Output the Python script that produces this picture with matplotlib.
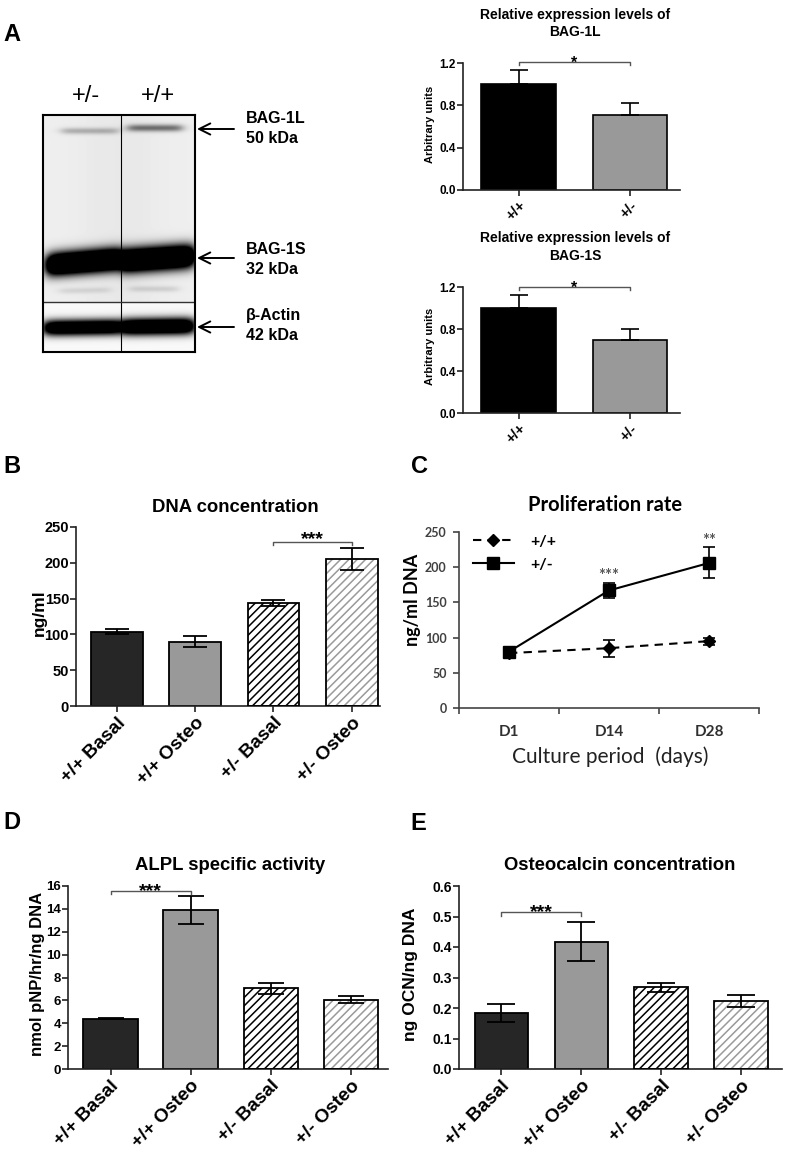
import numpy as np
import matplotlib
matplotlib.use("Agg")
import matplotlib.pyplot as plt
from matplotlib.lines import Line2D

# ---------------- data ----------------
a_groups = ["+/+", "+/-"]
bag1l_mean = [1.00, 0.71]
bag1l_sem = [0.13, 0.11]
bag1s_mean = [1.00, 0.70]
bag1s_sem = [0.12, 0.10]

groups4 = ["+/+ Basal", "+/+ Osteo", "+/- Basal", "+/- Osteo"]
dna_mean = [104, 90, 144, 205]
dna_sem = [3, 8, 4, 15]
alpl_mean = [4.4, 13.9, 7.05, 6.05]
alpl_sem = [0.05, 1.2, 0.45, 0.3]
ocn_mean = [0.183, 0.417, 0.268, 0.222]
ocn_sem = [0.030, 0.064, 0.015, 0.020]

days = ["D1", "D14", "D28"]
prolif_wt = [78, 85, 95]
prolif_wt_err = [3, 12, 5]
prolif_het = [80, 167, 206]
prolif_het_err = [3, 11, 22]

blot_lanes = ["+/-", "+/+"]
band_names = ["BAG-1L", "BAG-1S", "β-Actin"]
band_sizes = ["50 kDa", "32 kDa", "42 kDa"]

# ---------------- figure ----------------
W, H = 787, 1164
plt.rcParams['font.family'] = ['Liberation Sans', 'DejaVu Sans']
plt.rcParams['hatch.linewidth'] = 1.1
fig = plt.figure(figsize=(W / 100, H / 100), dpi=100)


def ax_px(l, t, r, b):
    return fig.add_axes([l / W, 1 - b / H, (r - l) / W, (b - t) / H])


def ftext(x, y, s, **kw):
    return fig.text(x / W, 1 - y / H, s, **kw)


# panel letters
for letter, x, y in [("A", 3, 32), ("B", 3, 464), ("C", 411, 464),
                     ("D", 3, 820), ("E", 410, 821)]:
    ftext(x, y, letter, fontsize=17, weight='bold', ha='left', va='center_baseline')

# ---------------- western blot (illustration) ----------------
bx0, bx1, by0, by1 = 43, 195, 115, 352
axb = ax_px(bx0, by0, bx1, by1)
yy, xx = np.mgrid[by0:by1, bx0:bx1] + 0.5


def band(x0, x1, yl, yr, sy, amp, p=2.0, w=3.0):
    yc = yl + (yr - yl) * np.clip((xx - x0) / (x1 - x0), 0, 1)
    fx = 1 / (1 + np.exp(-(xx - x0) / w)) / (1 + np.exp((xx - x1) / w))
    fy = np.exp(-np.abs((yy - yc) / sy) ** p)
    return amp * fx * fy


img = np.where(yy < 302, 0.935, 0.975)
img = img - 0.025 * np.exp(-((xx - 119) / 40) ** 2) * (yy < 302)
dark = (band(62, 118, 131, 131, 3.2, 0.25)
        + band(128, 182, 128, 128, 3.6, 0.5)
        + band(47, 120, 265, 259, 11.5, 1.9, p=2.2, w=3.5)
        + band(121, 194, 261, 256, 12.0, 1.9, p=2.2, w=3.5)
        + band(60, 110, 291, 290, 3.0, 0.10)
        + band(130, 178, 289, 289, 3.0, 0.12)
        + band(44, 120, 328, 327, 8.0, 1.5, p=2.2, w=3.5)
        + band(122, 194, 327, 326, 8.5, 1.6, p=2.2, w=3.5))
img = np.clip(img - dark, 0, 1)
axb.imshow(img, cmap='gray', vmin=0, vmax=1, extent=(bx0, bx1, by1, by0),
           aspect='auto', interpolation='bilinear')
axb.set_xlim(bx0, bx1)
axb.set_ylim(by1, by0)
axb.axvline(121, color='black', lw=0.8)
axb.axhline(302, color='#333333', lw=1.0)
axb.set_xticks([])
axb.set_yticks([])
for s in axb.spines.values():
    s.set_linewidth(1.5)

for lab, x in zip(blot_lanes, [86, 158]):
    ftext(x, 93, lab, fontsize=17, ha='center', va='center_baseline')

arrow_y = [129, 258, 327]
name_y = [117, 248, 314]
for name, size, ay, ny in zip(band_names, band_sizes, arrow_y, name_y):
    axb.annotate('', xy=(197, H - ay), xytext=(234, H - ay),
                 xycoords='figure pixels', textcoords='figure pixels',
                 arrowprops=dict(arrowstyle='->', lw=1.4, color='black',
                                 mutation_scale=20, shrinkA=0, shrinkB=0),
                 annotation_clip=False)
    ftext(246, ny, name, fontsize=11.5, weight='bold', ha='left', va='center_baseline')
    ftext(246, ny + 20, size, fontsize=11.5, weight='bold', ha='left', va='center_baseline')


# ---------------- helpers ----------------
def bar_panel(ax, means, sems, styles, width, capsize, upper_only=False, lw=1.3):
    x = np.arange(len(means))
    for xi, m, st in zip(x, means, styles):
        if st.get('hatch'):
            ax.bar(xi, m, width, color='white', edgecolor=st['hcolor'],
                   hatch=st['hatch'], linewidth=0, zorder=2)
            ax.bar(xi, m, width, fill=False, edgecolor='black', linewidth=lw, zorder=3)
        else:
            ax.bar(xi, m, width, color=st['face'], edgecolor='black', linewidth=lw, zorder=2)
    sems = np.asarray(sems, dtype=float)
    lower = np.zeros_like(sems) if upper_only else sems
    ax.errorbar(x, means, yerr=[lower, sems], fmt='none', ecolor='black',
                elinewidth=lw, capsize=capsize, capthick=lw, zorder=4)


def prism_axes(ax, xlim, ylim, yticks, ytl, xlabels, yfs, xfs, ypad=2):
    ax.set_xlim(*xlim)
    ax.set_ylim(*ylim)
    ax.spines[['top', 'right']].set_visible(False)
    for s in ['left', 'bottom']:
        ax.spines[s].set_linewidth(1.2)
        ax.spines[s].set_color('#222222')
    ax.set_yticks(yticks)
    ax.set_yticklabels(ytl, fontsize=yfs, weight='bold')
    ax.set_xticks(np.arange(len(xlabels)))
    ax.set_xticklabels(xlabels, rotation=45, ha='right', rotation_mode='anchor',
                       fontsize=xfs, weight='bold')
    ax.tick_params(direction='out', length=4, width=1.2, color='#222222', pad=2)
    ax.tick_params(axis='y', pad=ypad)


def bracket(ax, x1, x2, y, drop, stars, fs, off_pt):
    ax.plot([x1, x1, x2, x2], [y - drop, y, y, y - drop], color='#555555',
            lw=1.0, clip_on=False, zorder=5)
    ax.annotate(stars, xy=((x1 + x2) / 2, y), xytext=(0, off_pt),
                textcoords='offset points', ha='center', va='baseline',
                fontsize=fs, weight='bold', annotation_clip=False)


# ---------------- panel A bar charts ----------------
a_styles = [dict(face='black'), dict(face='#999999')]
for (top, bot), means, sems, title2, ylab_y in [((63, 190), bag1l_mean, bag1l_sem, "BAG-1L", 124),
                                                 ((287, 413), bag1s_mean, bag1s_sem, "BAG-1S", 346)]:
    ax = ax_px(463, top, 680, bot)
    bar_panel(ax, means, sems, a_styles, 0.67, 6.5, upper_only=True, lw=1.2)
    prism_axes(ax, (-0.5, 1.45), (0, 1.2), [0, 0.4, 0.8, 1.2],
               ["0.0", "0.4", "0.8", "1.2"], a_groups, 8.5, 10.5, ypad=1)
    ftext(430, ylab_y, "Arbitrary units", fontsize=8, weight='bold',
          rotation=90, ha='center', va='center')
    ftext(575, top - 50, "Relative expression levels of", fontsize=10,
          weight='bold', ha='center', va='center_baseline')
    ftext(575, top - 33, title2, fontsize=10, weight='bold', ha='center',
          va='center_baseline')
    bracket(ax, 0, 1, 1.21 if top == 63 else 1.2, 0.03, "*", 11.5, -4)

# ---------------- shared 4-group styles ----------------
styles4 = [dict(face='#262626'), dict(face='#999999'),
           dict(hatch='////', hcolor='black'), dict(hatch='////', hcolor='#9a9a9a')]

# ---------------- panel B ----------------
axB = ax_px(76, 527, 380, 706)
bar_panel(axB, dna_mean, dna_sem, styles4, 0.66, 8.6)
prism_axes(axB, (-0.52, 3.36), (0, 250), [0, 50, 100, 150, 200, 250],
           ["0", "50", "100", "150", "200", "250"], groups4, 10.5, 13.8, ypad=1)
ftext(39, 613, "ng/ml", fontsize=12.5, weight='bold', rotation=90, ha='center', va='center')
ftext(235, 505, "DNA concentration", fontsize=13.3, weight='bold', ha='center',
      va='center_baseline')
bracket(axB, 2, 3, 229, 4, "***", 14, -1.7)

# ---------------- panel C ----------------
axC = ax_px(459, 532, 759, 708)
xc = np.arange(len(days))
axC.errorbar(xc, prolif_wt, yerr=prolif_wt_err, fmt='--D', color='black', ms=6,
             lw=1.5, dashes=(4, 3), capsize=4.5, elinewidth=1.2, capthick=1.2, zorder=3)
axC.errorbar(xc, prolif_het, yerr=prolif_het_err, fmt='-s', color='black', ms=9,
             lw=1.5, capsize=4.5, elinewidth=1.2, capthick=1.2, zorder=4)
axC.set_xlim(-0.5, 2.5)
axC.set_ylim(0, 250)
axC.spines[['top', 'right']].set_visible(False)
for s in ['left', 'bottom']:
    axC.spines[s].set_linewidth(1.2)
    axC.spines[s].set_color('#444444')
axC.set_yticks([0, 50, 100, 150, 200, 250])
axC.set_yticklabels(["0", "50", "100", "150", "200", "250"], fontsize=9,
                    weight='bold', color='#404040', family='Lato')
axC.set_xticks([-0.5, 0.5, 1.5, 2.5])
axC.set_xticklabels([])
axC.set_xticks(xc, minor=True)
axC.set_xticklabels(days, minor=True, fontsize=11, weight='bold', family='Lato',
                    color='#303030')
axC.tick_params(axis='both', which='major', direction='out', length=4, width=1.2,
                color='#444444', pad=5)
axC.tick_params(axis='x', which='minor', length=0, pad=12)
handles = [Line2D([], [], ls='--', dashes=(4, 3), marker='D', ms=6, color='black', lw=1.5),
           Line2D([], [], ls='-', marker='s', ms=9, color='black', lw=1.5)]
axC.legend(handles, ["+/+", "+/-"], loc='upper left', bbox_to_anchor=(0.045, 0.985),
           frameon=False, borderpad=0, borderaxespad=0, handlelength=2.6,
           handletextpad=1.0, labelspacing=0.55, numpoints=1,
           prop=dict(family='Lato', weight='bold', size=11.5))
for xi, txt, yv in [(1, "***", prolif_het[1] + prolif_het_err[1]),
                    (2, "**", prolif_het[2] + prolif_het_err[2])]:
    axC.annotate(txt, xy=(xi, yv), xytext=(0, 1), textcoords='offset points',
                 ha='center', va='baseline', fontsize=12, weight='bold',
                 color='#555555', family='Lato', annotation_clip=False)
ftext(412, 600, "ng/ml DNA", fontsize=13, weight='bold', rotation=90, ha='center',
      va='center', family='Lato')
ftext(605, 503, "Proliferation rate", fontsize=14.5, weight='bold', ha='center',
      va='center_baseline', family='Lato')
ftext(610, 755, "Culture period  (days)", fontsize=15, ha='center',
      va='center_baseline', family='Lato', color='#222222')

# ---------------- panel D ----------------
axD = ax_px(68, 886, 388, 1069)
bar_panel(axD, alpl_mean, alpl_sem, styles4, 0.68, 9.4)
prism_axes(axD, (-0.53, 3.46), (0, 16), list(range(0, 17, 2)),
           [str(v) for v in range(0, 17, 2)], groups4, 9.5, 13.8, ypad=1)
ftext(38, 974, "nmol pNP/hr/ng DNA", fontsize=12, weight='bold', rotation=90,
      ha='center', va='center')
ftext(230, 863, "ALPL specific activity", fontsize=13.3, weight='bold', ha='center',
      va='center_baseline')
bracket(axD, 0, 1, 15.6, 0.3, "***", 14, -3.9)

# ---------------- panel E ----------------
axE = ax_px(459, 886, 782, 1069)
bar_panel(axE, ocn_mean, ocn_sem, styles4, 0.67, 10)
prism_axes(axE, (-0.53, 3.51), (0, 0.6), [0, 0.1, 0.2, 0.3, 0.4, 0.5, 0.6],
           ["0.0", "0.1", "0.2", "0.3", "0.4", "0.5", "0.6"], groups4, 10, 13.8, ypad=1)
ftext(411, 974, "ng OCN/ng DNA", fontsize=12.5, weight='bold', rotation=90,
      ha='center', va='center')
ftext(620, 863, "Osteocalcin concentration", fontsize=13.3, weight='bold',
      ha='center', va='center_baseline')
bracket(axE, 0, 1, 0.515, 0.012, "***", 14, -3.9)

fig.savefig("out.png", dpi=100)
